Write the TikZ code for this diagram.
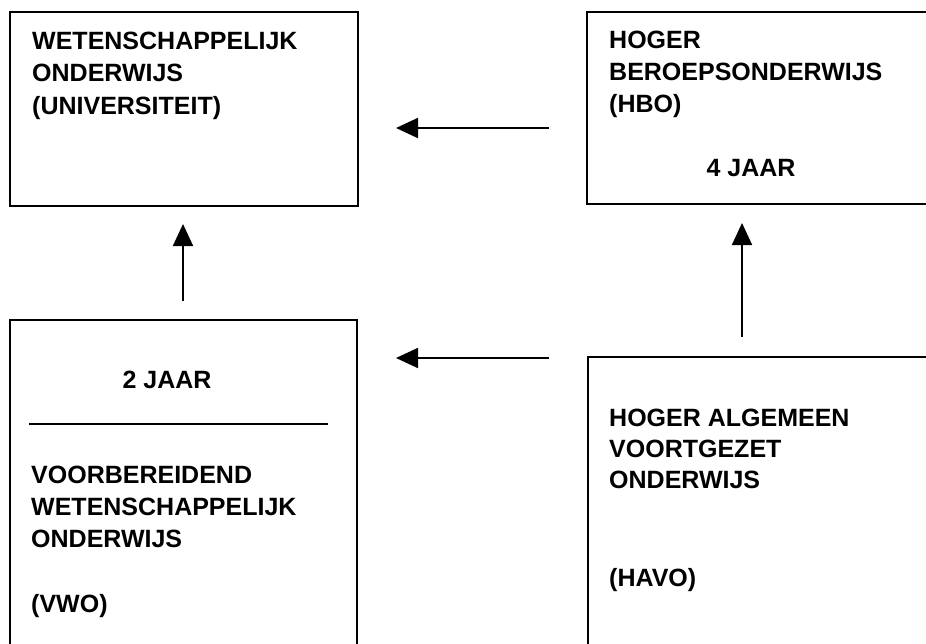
\documentclass[tikz,border=0pt]{standalone}
\usepackage{fontspec}
\setmainfont{Liberation Sans}
\usetikzlibrary{arrows.meta}
\tikzset{
  box/.style={draw, line width=1.4pt, rectangle, inner sep=0pt, outer sep=0pt, anchor=north west},
  lbl/.style={anchor=base west, inner sep=0pt, font=\bfseries\fontsize{25}{30}\selectfont},
  clbl/.style={anchor=base, inner sep=0pt, font=\bfseries\fontsize{25}{30}\selectfont},
  arr/.style={-{Triangle[length=22pt,width=20pt]}, line width=1.8pt},
  divider/.style={line width=1.6pt}
}
\begin{document}
\begin{tikzpicture}[x=1pt,y=-1pt]
\useasboundingbox (0,0) rectangle (926,643);
\clip (0,0) rectangle (926,643);
\fill[white] (0,0) rectangle (926,643);
% boxes
\node[box, minimum width=348pt, minimum height=194pt] (wo) at (10,12) {};
\node[box, minimum width=360pt, minimum height=192pt] (hbo) at (587,12) {};
\node[box, minimum width=347pt, minimum height=340pt] (vwo) at (10,320) {};
\node[box, minimum width=360pt, minimum height=300pt] (havo) at (588,357) {};
% texts box 1
\node[lbl] (wo1) at (32,49) {WETENSCHAPPELIJK};
\node[lbl] (wo2) at (32,81.5) {ONDERWIJS};
\node[lbl] (wo3) at (32,114) {(UNIVERSITEIT)};
% texts box 2
\node[lbl] (hbo1) at (609,48) {HOGER};
\node[lbl] (hbo2) at (609,80) {BEROEPSONDERWIJS};
\node[lbl] (hbo3) at (609,112) {(HBO)};
\node[clbl] (hbo4) at (751,176) {4 JAAR};
% texts box 3
\node[clbl] (vwo0) at (167,388) {2 JAAR};
\coordinate (divl) at (29,424);
\coordinate (divr) at (328,424);
\draw[divider] (divl) -- (divr);
\node[lbl] (vwo1) at (31,483) {VOORBEREIDEND};
\node[lbl] (vwo2) at (31,515) {WETENSCHAPPELIJK};
\node[lbl] (vwo3) at (31,547) {ONDERWIJS};
\node[lbl] (vwo4) at (31,612) {(VWO)};
% texts box 4
\node[lbl] (havo1) at (609,426) {HOGER ALGEMEEN};
\node[lbl] (havo2) at (609,457) {VOORTGEZET};
\node[lbl] (havo3) at (609,488) {ONDERWIJS};
\node[lbl] (havo4) at (609,586) {(HAVO)};
% arrows
\coordinate (a1s) at (549,128);
\coordinate (a1e) at (396,128);
\coordinate (a2s) at (183,301);
\coordinate (a2e) at (183,224);
\coordinate (a3s) at (742,337);
\coordinate (a3e) at (742,223);
\coordinate (a4s) at (549,358);
\coordinate (a4e) at (396,358);
\draw[arr] (a1s) -- (a1e);
\draw[arr] (a2s) -- (a2e);
\draw[arr] (a3s) -- (a3e);
\draw[arr] (a4s) -- (a4e);
\end{tikzpicture}
\end{document}
